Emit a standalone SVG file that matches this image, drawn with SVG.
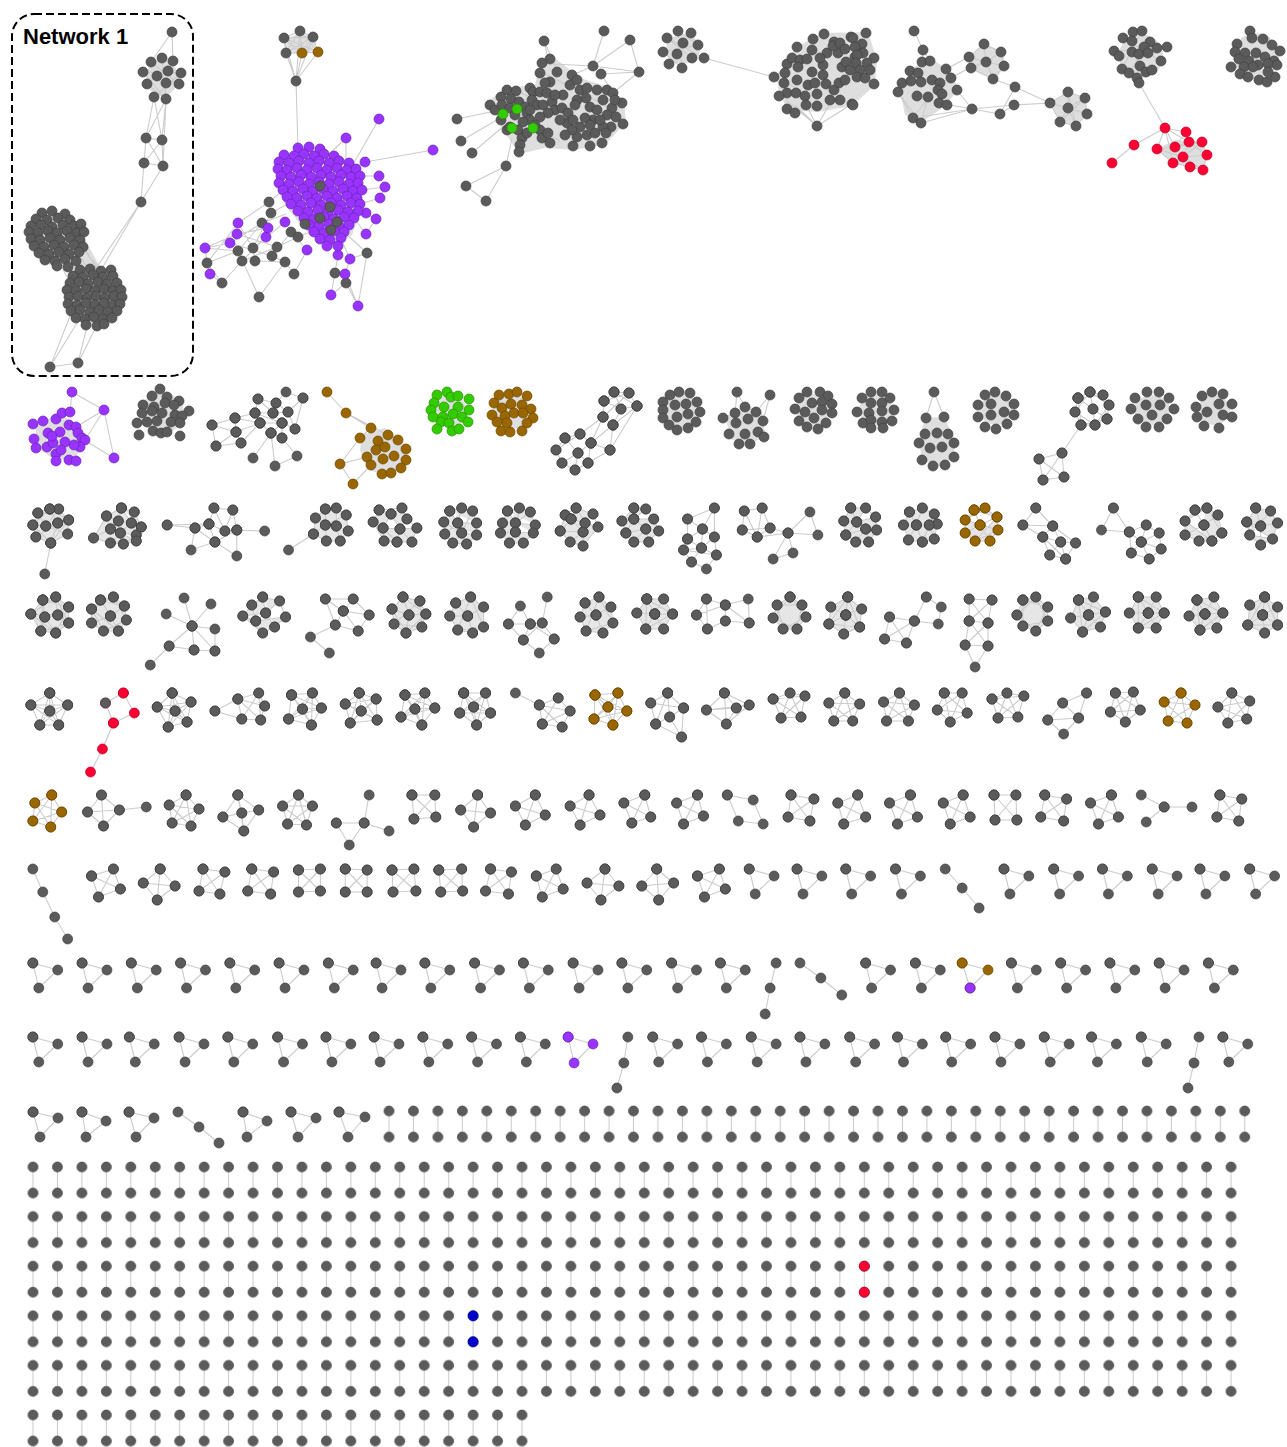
<svg xmlns="http://www.w3.org/2000/svg" width="1287" height="1447" viewBox="0 0 1287 1447">
<style>
.e{fill:none;stroke:#cccccc;stroke-width:1.1;stroke-linejoin:round}
.ef{fill:#e6e6e6;stroke:#cccccc;stroke-width:1.1;stroke-linejoin:round}
.h{fill:#dedede;stroke:none}
.g,.p,.b,.gr,.r,.bl{fill:none;stroke:none}
.g{marker-start:url(#mg);marker-mid:url(#mg);marker-end:url(#mg)}
.p{marker-start:url(#mp);marker-mid:url(#mp);marker-end:url(#mp)}
.b{marker-start:url(#mb);marker-mid:url(#mb);marker-end:url(#mb)}
.gr{marker-start:url(#mgr);marker-mid:url(#mgr);marker-end:url(#mgr)}
.r{marker-start:url(#mr);marker-mid:url(#mr);marker-end:url(#mr)}
.bl{marker-start:url(#mbl);marker-mid:url(#mbl);marker-end:url(#mbl)}
.cg{fill:#5b5b5b;stroke:#404040;stroke-width:.7}
.cp{fill:#9933ff;stroke:#6b22b3;stroke-width:.7}
text{font-family:"Liberation Sans",Arial,Helvetica,sans-serif;font-weight:700;font-size:22px;fill:#000}
</style>
<defs>
<marker id="mg" markerUnits="userSpaceOnUse" viewBox="-6 -6 12 12" markerWidth="12" markerHeight="12" overflow="visible"><circle r="5" fill="#5b5b5b" stroke="#404040" stroke-width=".7"/></marker>
<marker id="mp" markerUnits="userSpaceOnUse" viewBox="-6 -6 12 12" markerWidth="12" markerHeight="12" overflow="visible"><circle r="5" fill="#9933ff" stroke="#6b22b3" stroke-width=".7"/></marker>
<marker id="mb" markerUnits="userSpaceOnUse" viewBox="-6 -6 12 12" markerWidth="12" markerHeight="12" overflow="visible"><circle r="5" fill="#996600" stroke="#6b4700" stroke-width=".7"/></marker>
<marker id="mgr" markerUnits="userSpaceOnUse" viewBox="-6 -6 12 12" markerWidth="12" markerHeight="12" overflow="visible"><circle r="5" fill="#33cc00" stroke="#248f00" stroke-width=".7"/></marker>
<marker id="mr" markerUnits="userSpaceOnUse" viewBox="-6 -6 12 12" markerWidth="12" markerHeight="12" overflow="visible"><circle r="5" fill="#ff0033" stroke="#b30024" stroke-width=".7"/></marker>
<marker id="mbl" markerUnits="userSpaceOnUse" viewBox="-6 -6 12 12" markerWidth="12" markerHeight="12" overflow="visible"><circle r="5" fill="#0000cc" stroke="#00008f" stroke-width=".7"/></marker>
<pattern id="pp" width="24.45" height="49.6" patternUnits="userSpaceOnUse"><path class="e" d="M12.2 6v26"/><path class="g" d="M12.2 6v26"/></pattern>

<path id="r3" d="M212 425 235 418 255 413 273 413 288 412 303 398 286 392 276 403 258 399 255 413 260 423 282 423 295 429 288 412 276 403 273 413 282 423 282 438 271 433 260 423 236 432 212 425 216 446 241 443 260 423M235 418 236 432 241 443M216 446 236 432M258 399 273 413M235 418 260 423M271 433 253 458M271 433 275 466 297 456 282 438M271 433 282 423M303 398 295 429M255 413 282 423"/>
<path id="r7" d="M604 401 614 392 629 393 637 406 613 425 603 417zM604 401 621 409 637 406M614 392 621 409 613 425M629 393 603 417M603 417 580 434M603 417 591 443M613 425 610 450M613 425 591 443M637 406 610 450M565 438 580 434 591 443 588 463 575 470 562 463 556 450zM565 438 578 453 591 443M580 434 556 450M578 453 575 470M562 463 578 453 588 463M591 443 610 450 588 463M604 401 629 393M614 392 637 406"/>
<path id="r12" d="M1078 398 1090 392 1103 395 1109 405 1107 419 1095 425 1081 425 1075 412zM1078 398 1103 395 1107 419 1081 425 1078 398M1090 392 1109 405 1095 425 1075 412 1090 392M1078 398 1093 409 1107 419M1090 392 1093 409 1095 425M1081 425 1062 453 1039 459 1043 480 1064 477 1062 453 1043 480M1039 459 1064 477"/>

<path id="a1" d="M38 513 50 509 59 509 69 520 68 534 51 543 36 537 33 525zM38 513 46 526 68 534M50 509 58 523 51 543M59 509 46 526 33 525M69 520 58 523 36 537M46 526 58 523M50 509 69 520 51 543 33 525 50 509M51 543 45 574"/>
<path id="a2" d="M122 508 135 512 142 527 137 541 124 544 111 543 94 538 107 516zM122 508 119 521 111 529 94 538M135 512 132 523 121 533 111 543M142 527 137 535 124 544M107 516 119 521 132 523 137 535 121 533 111 529M122 508 132 523 142 527M107 516 111 529 121 533 137 541"/>
<path id="a3" d="M168 525 196 528 210 524 215 508 234 510 238 530 266 531M215 508 226 531 234 510M210 524 226 531 238 530 216 542 210 524M196 528 216 542 192 550 196 528M216 542 238 556 238 530M168 525 210 524"/>
<path id="a4" d="M327 509 338 508 348 515 350 531 342 541 328 541 315 534 317 518zM327 509 327 525 328 541M338 508 338 526 342 541M317 518 338 526 350 531M348 515 327 525 315 534M327 525 338 526M315 534 290 550"/>
<path id="a5" d="M381 510 404 508 409 519 419 528 414 542 399 542 386 541 375 522zM393 514 385 528 402 529 393 514M381 510 393 514 404 508M375 522 385 528 386 541M409 519 402 529 419 528M399 542 402 529 414 542M385 528 399 542"/>
<path id="a6" d="M452 511 464 508 475 511 479 523 479 535 469 544 455 543 447 534 446 522zM452 511 460 523 479 523M464 508 460 523 447 534M475 511 464 533 455 543M446 522 464 533 479 535M460 523 464 533 469 544"/>
<path id="a7" d="M510 511 522 508 533 512 538 525 536 533 526 543 512 543 503 533 505 523zM510 511 518 523 538 525M522 508 518 532 503 533M533 512 518 523 505 523M518 523 518 532 536 533M512 543 518 532 526 543"/>
<path id="a8" d="M568 515 579 508 596 514 601 527 586 546 573 542 563 531zM574 519 588 523 586 532 574 519M568 515 574 519 579 508M596 514 588 523 601 527M563 531 574 519M573 542 586 532 586 546M563 531 586 532M579 508 588 523"/>
<path id="a9" d="M637 508 649 509 657 519 662 531 652 542 637 542 629 533 625 521zM637 519 649 529M637 508 637 519 625 521M649 509 637 519 657 519M629 533 649 529 662 531M637 542 649 529 652 542M637 519 629 533"/>
<path id="a10" d="M718 508 691 519 706 529 718 508 718 537 706 529 691 539 691 519M691 539 705 548 718 537 720 555 710 569 695 562 687 550 691 539M706 529 705 548 687 550 720 555 705 548 695 562"/>
<path id="a11" d="M748 511 766 508 774 528 746 530 748 511 761 537 774 528 792 533 814 512 822 535 792 533 797 553 777 559 792 533 761 537 766 508M746 530 761 537"/>
<path id="a12" d="M855 508 870 508 880 517 881 530 873 542 860 542 850 535 848 521zM861 522 870 529M855 508 861 522 848 521M870 508 861 522 880 517M850 535 870 529 881 530M860 542 870 529 873 542M861 522 850 535"/>
<path id="a13" d="M914 512 927 508 939 514 942 524 939 539 927 542 913 540 908 525zM921 525 934 525M914 512 921 525 908 525M927 508 921 525 913 540M939 514 934 525 942 524M927 542 934 525 939 539M921 525 927 542"/>
<path id="a14" d="M979 510 990 508 1002 517 1003 530 995 541 980 541 970 533 970 520zM985 525 979 510M985 525 1002 517M985 525 995 541M985 525 970 533M990 508 970 520 1003 530 980 541 1002 517 979 510"/>
<path id="a15" d="M1041 508 1028 525 1058 526 1041 508M1028 525 1048 537 1058 526 1066 542 1048 537 1055 555 1071 559 1066 542 1081 543 1071 559M1058 526 1081 543M1066 542 1055 555M1048 537 1071 559"/>
<path id="a16" d="M1119 508 1107 530 1135 532 1119 508M1135 532 1152 525 1165 533 1167 549 1155 559 1137 553 1135 532 1147 542 1152 525M1165 533 1147 542 1167 549M1147 542 1137 553M1147 542 1155 559"/>
<path id="a17" d="M1201 510 1213 508 1224 515 1228 533 1218 541 1205 541 1191 535 1191 521zM1210 525 1201 510M1210 525 1224 515M1210 525 1218 541M1210 525 1191 535M1213 508 1191 521 1218 541 1228 533 1205 541M1213 508 1228 533"/>
<path id="a18" d="M1262 508 1277 511 1284 523 1279 539 1267 545 1256 535 1253 522zM1267 526 1262 508M1267 526 1284 523M1267 526 1267 545M1267 526 1253 522M1277 511 1256 535 1279 539 1253 522"/>

<path id="b1" d="M43 600 56 597 69 607 69 623 56 633 41 631 31 614zM45 617 58 615M43 600 45 617 41 631M56 597 58 615 69 623M69 607 45 617 56 633M31 614 58 615M43 600 69 607 56 633 31 614 56 597 69 623 41 631 43 600"/>
<path id="b2" d="M101 600 114 597 125 606 127 620 119 631 104 631 92 623 92 609zM111 616 101 600M111 616 125 606M111 616 119 631M111 616 92 623M114 597 127 620 104 631 92 609 114 597M101 600 125 606M92 609 119 631"/>
<path id="b3" d="M185 598 193 626 212 604M167 614 193 626 216 629 216 651 195 650 170 646 193 626 195 650M193 626 216 651M170 646 151 665"/>
<path id="b4" d="M264 597 281 601 287 617 276 627 264 633 244 616 253 605zM267 613 257 621M264 597 267 613 276 627M253 605 257 621 264 633M281 601 267 613 244 616 257 621 287 617"/>
<path id="b5" d="M327 599 355 599 371 615 360 631 337 625 327 599 345 611 355 599M345 611 371 615M345 611 337 625 312 637 331 653M345 611 360 631"/>
<path id="b6" d="M405 597 422 601 428 614 424 627 408 633 396 624 394 609zM411 615 405 597M411 615 428 614M411 615 408 633M411 615 394 609M422 601 424 627 396 624 422 601M405 597 428 614 408 633 394 609"/>
<path id="b7" d="M458 603 473 597 486 607 486 627 475 633 460 630 452 616zM470 616 458 603M470 616 486 607M470 616 475 633M470 616 452 616M473 597 486 627 460 630 473 597"/>
<path id="b8" d="M550 597 545 623 533 624 511 624 523 606 533 624 526 640 542 653 557 639 545 623 526 640 511 624M533 624 557 639"/>
<path id="b9" d="M588 603 602 597 614 607 616 623 606 633 589 631 583 617zM599 615 588 603M599 615 614 607M599 615 606 633M599 615 583 617M602 597 616 623 589 631 602 597"/>
<path id="b10" d="M650 599 667 599 676 614 667 629 649 629 640 613zM658 614 650 599M658 614 676 614M658 614 649 629M658 614 667 599M658 614 640 613M658 614 667 629M650 599 676 614 649 629 650 599"/>
<path id="b11" d="M700 615 710 599 729 605 752 599 753 623 729 621 711 629 700 615 729 605 729 621M710 599 711 629M729 605 753 623"/>
<path id="b12" d="M794 597 806 605 810 617 801 629 787 629 777 618 781 605zM794 597 810 617 787 629 781 605 806 605 801 629 777 618 794 597"/>
<path id="b13" d="M852 597 866 609 864 627 848 634 833 624 835 607zM850 615 852 597M850 615 864 627M850 615 833 624M850 615 866 609M850 615 848 634M850 615 835 607M852 597 864 627 833 624 852 597"/>
<path id="b14" d="M931 597 946 607 943 624 919 621 931 597M919 621 894 617 889 639 911 643 919 621 889 639M894 617 911 643"/>
<path id="b15" d="M974 599 997 600 993 623 974 621 974 599 993 623 993 646 970 645 974 621 997 600M974 621 993 646 980 667 970 645 993 623"/>
<path id="b16" d="M1028 600 1041 597 1053 607 1053 621 1041 631 1028 626 1022 615zM1028 600 1053 607 1041 631 1022 615 1041 597 1053 621 1028 626 1028 600"/>
<path id="b17" d="M1084 600 1099 597 1111 612 1106 627 1088 632 1076 618zM1094 615 1084 600M1094 615 1111 612M1094 615 1088 632M1094 615 1099 597M1094 615 1076 618M1094 615 1106 627M1084 600 1111 612 1088 632 1084 600"/>
<path id="b18" d="M1144 597 1162 597 1170 613 1162 628 1144 628 1135 613zM1154 613 1144 597M1154 613 1170 613M1154 613 1144 628M1154 613 1162 597M1154 613 1135 613M1154 613 1162 628M1144 597 1170 613 1144 628 1144 597"/>
<path id="b19" d="M1203 600 1220 597 1229 613 1223 628 1206 630 1195 616zM1211 614 1203 600M1211 614 1229 613M1211 614 1206 630M1211 614 1220 597M1211 614 1195 616M1211 614 1223 628M1203 600 1229 613 1206 630 1203 600"/>
<path id="b20" d="M1271 597 1284 607 1284 625 1271 633 1254 625 1256 605zM1269 615 1271 597M1269 615 1284 625M1269 615 1254 625M1269 615 1284 607M1269 615 1271 633M1269 615 1256 605M1271 597 1284 625 1254 625 1271 597"/>

<path id="c1" d="M50 693 68 705 59 725 40 725 31 705zM50 693 50 711 59 725M68 705 50 711 40 725M31 705 50 711M50 693 59 725 31 705 68 705 40 725 50 693"/>
<path id="c2" d="M124 693 135 713 114 723 106 703 124 693M114 723 103 749 91 772"/>
<path id="c3" d="M173 693 192 702 188 722 169 727 158 707zM173 693 176 711 188 722M192 702 176 711 169 727M158 707 176 711M173 693 188 722 158 707 192 702 169 727 173 693"/>
<path id="c4" d="M216 711 239 699 260 693 266 706 262 720 243 719 216 711M239 699 243 719 260 693 262 720 239 699 266 706"/>
<path id="c5" d="M293 695 314 693 323 708 313 725 290 719zM293 695 304 709 313 725M314 693 304 709 290 719M323 708 304 709M293 695 323 708 290 719 314 693 313 725 293 695"/>
<path id="c6" d="M361 693 378 699 379 720 352 723 347 704zM361 693 363 711 379 720M378 699 363 711 352 723M347 704 363 711M361 693 379 720 347 704 378 699 352 723 361 693"/>
<path id="c7" d="M407 695 427 693 437 708 424 725 403 717zM407 695 417 709 424 725M427 693 417 709 403 717M437 708 417 709M407 695 437 708 403 717 427 693 424 725 407 695"/>
<path id="c8" d="M466 693 488 693 493 713 479 725 462 713zM466 693 476 707 479 725M488 693 476 707 462 713M493 713 476 707M466 693 493 713 462 713 488 693 479 725 466 693"/>
<path id="c9" d="M518 693 542 705 561 698 573 711 565 727 545 724 542 705 573 711 545 724M542 705 565 727M561 698 545 724"/>
<path id="c10" d="M598 695 621 693 630 711 616 725 597 719zM598 695 611 707 616 725M621 693 611 707 597 719M630 711 611 707M598 695 630 711 597 719 621 693 616 725 598 695"/>
<path id="c11" d="M671 693 687 708 673 717 659 724 654 703zM671 693 673 717 685 737 687 708M659 724 685 737M654 703 687 708M671 693 659 724"/>
<path id="c12" d="M728 693 753 705 740 708 730 724 710 710 728 693 740 708 710 710 753 705 730 724 728 693"/>
<path id="c13" d="M777 699 794 693 809 696 805 717 785 718 777 699 809 696 785 718 794 693 805 717 777 699"/>
<path id="c14" d="M849 693 864 704 857 721 838 721 833 703 849 693 857 721 833 703 864 704 838 721 849 693"/>
<path id="c15" d="M904 693 919 705 913 721 891 721 888 702 904 693 913 721 888 702 919 705 891 721 904 693"/>
<path id="c16" d="M949 693 967 693 972 713 955 722 942 710 949 693 972 713 942 710 967 693 955 722 949 693"/>
<path id="c17" d="M997 699 1012 693 1029 696 1023 717 1003 718 997 699 1029 696 1003 718 1012 693 1023 717 997 699"/>
<path id="c18" d="M1092 693 1068 703 1053 720 1069 734 1084 718 1068 703M1053 720 1084 718 1092 693"/>
<path id="c19" d="M1121 693 1139 692 1146 710 1131 722 1116 712 1121 693 1146 710 1116 712 1139 692 1131 722 1121 693"/>
<path id="c20" d="M1187 693 1201 705 1193 723 1174 721 1170 702 1187 693 1193 723 1170 702 1201 705 1174 721 1187 693"/>
<path id="c21" d="M1238 693 1256 701 1253 719 1234 723 1224 707 1238 693 1253 719 1224 707 1256 701 1234 723 1238 693"/>

<path id="d1" d="M52 795 62 812 51 827 33 821 35 803 52 795 51 827 35 803 62 812 33 821 52 795"/>
<path id="d2" d="M102 795 120 810 104 826 88 812 102 795 104 826M88 812 120 810 147 807"/>
<path id="d3" d="M187 795 200 809 192 826 173 823 170 805 187 795 192 826 170 805 200 809 173 823 187 795"/>
<path id="d4" d="M239 795 260 810 245 831 224 817 243 813 239 795 245 831 243 813 260 810 224 817 239 795"/>
<path id="d5" d="M300 795 314 806 308 825 289 824 284 806 300 795 308 825 284 806 314 806 289 824 300 795"/>
<path id="d6" d="M371 795 366 823 391 831M338 823 366 823 351 845 338 823"/>
<path id="d7" d="M414 795 437 795 438 817 416 819zM414 795 438 817M437 795 416 819"/>
<path id="d8" d="M480 795 493 813 476 827 463 810zM480 795 476 827M493 813 463 810"/>
<path id="d9" d="M538 795 548 815 528 825 518 806zM538 795 528 825M548 815 518 806"/>
<path id="d10" d="M592 795 603 815 583 825 573 806zM592 795 583 825M603 815 573 806"/>
<path id="d11" d="M648 795 654 817 635 823 627 803zM648 795 635 823M654 817 627 803"/>
<path id="d12" d="M701 795 707 816 687 824 680 803zM701 795 687 824M707 816 680 803"/>
<path id="d13" d="M731 795 757 800 767 824 742 821z"/>
<path id="d14" d="M795 795 818 799 814 821 792 817zM795 795 814 821M818 799 792 817"/>
<path id="d15" d="M862 795 870 817 848 824 842 803zM862 795 848 824M870 817 842 803"/>
<path id="d16" d="M915 795 922 817 902 824 894 803zM915 795 902 824M922 817 894 803"/>
<path id="d17" d="M968 795 975 817 955 824 948 803zM968 795 955 824M975 817 948 803"/>
<path id="d18" d="M999 795 1021 795 1022 820 1000 820zM999 795 1022 820M1021 795 1000 820"/>
<path id="d19" d="M1050 795 1072 799 1069 821 1046 817zM1050 795 1069 821M1072 799 1046 817"/>
<path id="d20" d="M1117 795 1124 817 1104 824 1096 803zM1117 795 1104 824M1124 817 1096 803"/>
<path id="d21" d="M1147 795 1170 807 1198 807M1170 807 1152 822"/>
<path id="d22" d="M1226 795 1248 799 1245 821 1223 817zM1226 795 1245 821M1248 799 1223 817"/>

<path id="e1" d="M33 869 43 892 55 917 68 939"/>
<path id="e2" d="M92 876 114 869 121 889 99 897zM92 876 121 889M114 869 99 897"/>
<path id="e3" d="M161 869 176 886 158 900 144 883zM161 869 158 900M176 886 144 883"/>
<path id="e4" d="M204 869 226 872 221 894 200 891zM204 869 221 894M226 872 200 891"/>
<path id="e5" d="M253 869 275 872 272 894 249 891zM253 869 272 894M275 872 249 891"/>
<path id="e6" d="M300 870 322 869 322 891 300 892zM300 870 322 891M322 869 300 892"/>
<path id="e7" d="M347 869 369 870 369 892 347 892zM347 869 369 892M369 870 347 892"/>
<path id="e8" d="M394 870 416 869 418 891 395 892zM394 870 418 891M416 869 395 892"/>
<path id="e9" d="M441 870 464 869 465 891 443 892zM441 870 465 891M464 869 443 892"/>
<path id="e10" d="M493 869 514 872 511 894 488 891zM493 869 511 894M514 872 488 891"/>
<path id="e11" d="M539 876 559 869 566 889 545 897zM539 876 566 889M559 869 545 897"/>
<path id="e12" d="M608 869 622 886 604 900 590 883zM608 869 604 900M622 886 590 883"/>
<path id="e13" d="M660 869 677 883 662 900 645 886zM660 869 662 900M677 883 645 886"/>
<path id="e14" d="M701 876 723 869 729 889 708 897zM701 876 729 889M723 869 708 897"/>
<path id="e15" d="M950 869 967 888 984 908"/>
<path id="trisEFG" d="M753 869l25 7-19 18zM801 869l25 7-19 18zM850 869l25 7-19 18zM900 869l25 7-19 18zM1009 869l25 7-19 18zM1059 869l25 7-19 18zM1108 869l25 7-19 18zM1158 869l25 7-19 18zM1206 869l25 7-19 18zM1256 869l25 7-19 18zM33 963l25 7-19 18zM82.5 963l25 7-19 18zM132 963l25 7-19 18zM181.5 963l25 7-19 18zM231 963l25 7-19 18zM280.5 963l25 7-19 18zM330 963l25 7-19 18zM378 963l25 7-19 18zM427 963l25 7-19 18zM477 963l25 7-19 18zM526 963l25 7-19 18zM576 963l25 7-19 18zM625 963l25 7-19 18zM675 963l25 7-19 18zM724 963l25 7-19 18zM870 963l25 7-19 18zM920 963l25 7-19 18zM1016.5 963l25 7-19 18zM1066 963l25 7-19 18zM1115.5 963l25 7-19 18zM1165 963l25 7-19 18zM1214.5 963l25 7-19 18zM780 963 774 988 769 1014M804 963 825 978 846 995M33 1037l25 7-19 18zM82.5 1037l25 7-19 18zM130 1037l25 7-19 18zM180 1037l25 7-19 18zM229 1037l25 7-19 18zM279 1037l25 7-19 18zM327.6 1037l25 7-19 18zM376 1037l25 7-19 18zM425 1037l25 7-19 18zM474 1037l25 7-19 18zM523 1037l25 7-19 18zM656 1037l25 7-19 18zM705 1037l25 7-19 18zM755 1037l25 7-19 18zM804 1037l25 7-19 18zM854 1037l25 7-19 18zM902 1037l25 7-19 18zM950.5 1037l25 7-19 18zM1000 1037l25 7-19 18zM1049.5 1037l25 7-19 18zM1097 1037l25 7-19 18zM1147 1037l25 7-19 18zM1229 1037l25 7-19 18zM631 1037 627 1063 620 1088M1205 1037 1200 1063 1194 1088"/>
<path id="fc" d="M967 963 993 970 975 988z"/>
<path id="gp" d="M571 1037 596 1044 577 1063z"/>
<path id="trisH" d="M33 1112l25 6-18 19zM82 1112l24 9-20 16zM129 1112l25 6-18 19zM243 1112l24 9-20 16zM291 1112l25 6-18 19zM339 1112l26 5-17 20zM178 1112 199 1127 219 1143"/>
</defs>

<rect width="1287" height="1447" fill="#ffffff"/>

<g id="connectors">
 <g id="edge-haze" class="h">
  <ellipse cx="162" cy="78" rx="16" ry="18"/>
  <ellipse cx="57" cy="240" rx="26" ry="26"/>
  <ellipse cx="95" cy="297" rx="27" ry="28"/>
  <path d="M62 258L84 238L104 274L76 282z"/>
  <ellipse cx="301" cy="44" rx="14" ry="10"/>
  <path d="M282 160L300 146L340 155L362 175L362 210L352 235L330 250L305 230L285 205L277 180z"/>
  <path d="M490 100L505 88L535 85L540 62L555 58L580 78L605 86L624 100L626 122L606 144L575 150L545 148L519 154L500 125z"/>
  <ellipse cx="683" cy="49" rx="17" ry="15"/>
  <path d="M776 77L795 48L822 33L868 32L877 60L875 85L852 106L818 112L788 110L780 95z"/>
  <path d="M900 90L912 68L930 58L952 72L958 90L945 106L922 122L905 115z"/>
  <path d="M970 57L984 44L1002 51L1006 66L994 80L972 70z"/>
  <path d="M1050 103L1068 92L1085 98L1087 114L1076 126L1060 122z"/>
  <ellipse cx="1141" cy="56" rx="22" ry="22"/>
  <path d="M1157 149L1175 140L1202 142L1207 155L1203 170L1173 163z"/>
  <ellipse cx="1256" cy="56" rx="23" ry="23"/>
  <path d="M35 425L60 414L80 428L85 442L75 458L55 460L38 448z"/>
  <ellipse cx="162" cy="413" rx="22" ry="20"/>
  <path d="M362 435L385 428L406 445L406 465L390 476L368 470L360 450z"/>
  <ellipse cx="450" cy="411" rx="17" ry="16"/>
  <ellipse cx="512" cy="412" rx="19" ry="17"/>
  <ellipse cx="681" cy="410" rx="17" ry="17"/>
  <path d="M725 418L745 405L762 412L765 435L750 445L732 440z"/>
  <ellipse cx="813" cy="410" rx="17" ry="16"/>
  <ellipse cx="876" cy="410" rx="17" ry="16"/>
  <path d="M925 418L944 417L955 440L954 458L940 466L922 460L919 440z"/>
  <ellipse cx="996" cy="410" rx="16" ry="15"/>
  <ellipse cx="1152" cy="410" rx="18" ry="15"/>
  <ellipse cx="1214" cy="410" rx="16" ry="15"/>
 </g>
 <g class="e">
  <path id="edges-net1" d="M172 32 151 62M172 32 173 61M154 97 146 138M154 97 162 140M166 99 146 138M166 99 162 140M166 99 163 166M146 138 162 140 163 166 144 163 146 138 163 166M162 140 144 163M144 163 141 202 163 166M141 202 101 270M141 202 90 277M50 367 78 363M50 367 72 311M50 367 80 318M78 363 88 322M78 363 97 325M151 62 179 84M143 72 181 73M147 84 173 61M162 58 166 99M157 76 179 84M154 97 181 73M143 72 166 99M147 84 166 99M60 256 80 285M70 258 90 290M76 250 96 281M80 262 100 290M66 262 86 300M56 258 78 295M80 240 101 276M84 250 110 282"/>
  <path id="edges-net2" d="M300 31 284 38 286 53 302 53 318 52 313 37zM300 31 286 53 318 52 284 38 302 53 313 37 286 53M300 31 302 53M284 38 313 37M300 31 318 52M296 81 284 38M296 81 286 53M296 81 302 53M296 81 318 52M296 81 300 31M296 81 313 37M296 81 298 148M379 119 351 168M346 138 325 158M346 138 346 163M433 150 365 162 351 168M365 162 356 169M379 176 360 176M385 187 362 190M380 198 360 204M376 219 358 211M366 234 354 218M379 176 385 187 380 198M367 253 344 232M350 259 341 239M338 255 330 239M350 259 345 274 346 283 331 295 335 273 338 255M346 283 358 306 345 274M350 259 367 253 358 306M366 213 376 219M366 234 376 219M205 248 238 251 207 263 210 274 222 283 207 263 205 248 230 243M238 223 253 248M237 234 277 247M230 243 272 256M242 261 277 247M255 261 253 248M259 297 285 262 294 274 307 250M285 262 272 256M238 251 259 297M269 202 290 185M271 213 295 200M262 223 286 214M298 237 320 228M291 232 307 250M230 243 262 223M238 223 269 202M253 248 285 222M242 261 266 237M222 283 242 261M207 263 238 223M277 247 298 237M272 256 291 232M253 248 271 213M255 261 285 262M237 234 268 228M238 251 262 223M205 248 237 234"/>
  <path id="edges-net3" d="M457 119 500 110M461 141 500 118M472 153 505 125M506 166 512 138M506 166 466 186 486 201 506 166M544 41 548 58M544 41 558 71M604 31 593 66 630 40 639 72 593 66 552 64M593 66 566 78M601 74 639 72M601 74 608 85M639 72 614 92M500 106 560 141M520 92 600 134M540 71 620 113"/>
  <path id="edges-net4" d="M704 58 774 77M667 38 704 58M678 31 682 68M691 33 669 64M663 52 698 45M667 38 692 58M678 31 698 45M663 52 682 68M817 126 795 105M817 126 806 105M817 126 832 100M817 126 852 104M817 126 786 100M774 77 795 60M774 77 800 90"/>
  <path id="edges-net5" d="M914 31 923 50 922 62M923 50 930 61M946 69 969 57M951 78 969 68M957 90 972 109M921 123 972 109M913 118 972 109M939 103 972 109M972 109 1000 114 1015 87M972 109 1014 105 1050 103 1015 87 993 79 1004 66 986 62 969 57 984 44 1001 52 1004 66M969 68 986 62 993 79 971 68 969 57M984 44 986 62M1001 52 986 62M1000 114 1014 105M913 118 898 92M921 123 900 95M913 118 940 83M921 123 928 97M1050 103 1068 92 1085 98 1087 114 1076 126 1060 122zM1050 103 1068 108 1085 98M1068 92 1068 108 1087 114M1060 122 1068 108 1076 126M1050 103 1087 114M1068 92 1076 126M1085 98 1060 122"/>
  <path id="edges-net6" d="M1139 83 1165 128 1134 145 1112 163M1165 128 1157 149M1165 128 1175 147M1165 128 1186 132M1165 128 1173 163M1165 128 1189 142M1186 132 1189 142 1202 142 1207 155 1203 170 1190 167 1173 163 1157 149 1175 147 1189 142 1183 157 1175 147 1202 142 1183 157 1207 155M1183 157 1190 167M1183 157 1173 163M1183 157 1203 170M1186 132 1175 147M1189 142 1207 155M1157 149 1183 157M1123 38 1161 61M1114 51 1167 47M1133 32 1139 83M1142 31 1122 69M1150 42 1129 73"/>
  <path id="edges-row2" d="M72 392 104 410 76 427M72 392 70 412M104 410 114 458 84 440M104 410 85 440M327 392 346 413 371 428 360 438M346 413 388 435M340 464 353 484 371 465M340 464 367 457M340 464 360 438M737 392 745 407M737 392 735 413M770 395 756 412M770 395 763 421M723 418 735 413M934 392 926 418M934 392 944 417"/>
  <use href="#r3"/><use href="#r7"/><use href="#r12"/>
  <use href="#trisH"/>
 </g>
 <g transform="matrix(.995 0 0 1 0 0)">
  <g class="ef">
   <use href="#a1"/><use href="#a2"/><use href="#a4"/><use href="#a5"/><use href="#a6"/><use href="#a7"/><use href="#a8"/><use href="#a9"/><use href="#a12"/><use href="#a13"/><use href="#a14"/><use href="#a17"/><use href="#a18"/>
   <use href="#b1"/><use href="#b2"/><use href="#b4"/><use href="#b6"/><use href="#b7"/><use href="#b9"/><use href="#b10"/><use href="#b12"/><use href="#b13"/><use href="#b16"/><use href="#b17"/><use href="#b18"/><use href="#b19"/><use href="#b20"/>
  </g>
  <g class="e">
   <use href="#a3"/><use href="#a10"/><use href="#a11"/><use href="#a15"/><use href="#a16"/>
   <use href="#b3"/><use href="#b5"/><use href="#b8"/><use href="#b11"/><use href="#b14"/><use href="#b15"/>
   <use href="#c1"/><use href="#c2"/><use href="#c3"/><use href="#c4"/><use href="#c5"/><use href="#c6"/><use href="#c7"/><use href="#c8"/><use href="#c9"/><use href="#c10"/><use href="#c11"/><use href="#c12"/><use href="#c13"/><use href="#c14"/><use href="#c15"/><use href="#c16"/><use href="#c17"/><use href="#c18"/><use href="#c19"/><use href="#c20"/><use href="#c21"/>
   <use href="#d1"/><use href="#d2"/><use href="#d3"/><use href="#d4"/><use href="#d5"/><use href="#d6"/><use href="#d7"/><use href="#d8"/><use href="#d9"/><use href="#d10"/><use href="#d11"/><use href="#d12"/><use href="#d13"/><use href="#d14"/><use href="#d15"/><use href="#d16"/><use href="#d17"/><use href="#d18"/><use href="#d19"/><use href="#d20"/><use href="#d21"/><use href="#d22"/>
   <use href="#e1"/><use href="#e2"/><use href="#e3"/><use href="#e4"/><use href="#e5"/><use href="#e6"/><use href="#e7"/><use href="#e8"/><use href="#e9"/><use href="#e10"/><use href="#e11"/><use href="#e12"/><use href="#e13"/><use href="#e14"/><use href="#e15"/>
   <use href="#trisEFG"/><use href="#fc"/><use href="#gp"/>
  </g>
 </g>
</g>

<g id="nodes">
 <g id="network-1" class="g">
  <path d="M172 32 151 62 162 58 173 61 143 72 157 76 168 71 181 73 147 84 166 83 179 84 154 97 166 99 146 138 162 140 144 163 163 166 141 202 50 367 78 363"/>
  <path d="M42 213 52 211 65 214 36 219 47 220 58 218 70 220 31 226 41 225 52 227 63 225 74 226 81 224 29 232 38 233 48 231 57 233 67 231 77 233 84 232 31 239 40 240 50 238 60 240 70 238 80 240 34 246 44 247 54 245 64 247 74 245 83 247 39 253 49 254 59 252 69 254 79 252 45 260 55 261 65 259 76 261 57 266 68 267"/>
  <path d="M80 270 90 269 101 271 111 270 73 276 83 277 93 275 103 277 113 276 70 283 79 282 88 284 98 282 107 284 117 283 67 290 76 291 86 289 95 291 104 289 113 291 121 290 69 297 78 296 87 298 96 296 105 298 114 296 122 297 68 304 77 305 86 303 95 305 104 303 113 305 120 304 71 311 80 310 90 312 99 310 108 312 117 311 76 318 85 319 94 317 103 319 112 318 86 325 97 326 104 324"/>
 </g>
 <g id="network-2">
  <path class="g" d="M300 31 284 38 313 37 286 53 296 81"/>
  <path class="b" d="M302 53 318 52"/>
  <path class="g" d="M207 263 222 283 238 251 253 248 242 261 255 261 262 223 269 202 271 213 277 247 272 256 285 262 294 274 259 297 291 232 298 237 367 253 335 273 346 283"/>
  <path class="p" d="M205 248 238 223 237 234 230 243 210 274 266 237 268 228 285 222 307 250 379 119 346 138 433 150 365 162 351 168 379 176 385 187 380 198 376 219 366 213 366 234 350 259 338 255 331 295 358 306 345 274"/>
  <path class="p" d="M298 148 309 147 320 149 284 155 294 156 304 154 314 156 324 154 334 156 279 162 289 163 299 161 309 163 319 161 329 163 339 161 349 163 278 169 287 170 297 168 307 170 317 168 327 170 337 168 347 170 356 169 281 176 291 177 301 175 311 177 321 175 331 177 341 175 351 177 360 176 279 183 289 184 299 182 309 184 319 182 329 184 339 182 349 184 358 183 283 190 293 191 303 189 313 191 323 189 333 191 343 189 353 191 362 190 287 197 297 198 307 196 317 198 327 196 337 198 347 196 357 198 291 204 301 205 311 203 321 205 331 203 341 205 351 203 360 204 298 211 308 212 318 210 328 212 338 210 348 212 358 211 304 218 314 219 324 217 334 219 344 217 354 218 309 225 319 226 329 224 339 226 349 225 314 232 324 233 334 231 344 232 320 239 330 240 341 238 327 246 338 246"/>
  <path class="g" d="M320 186 330 207 320 218 337 222 331 230 305 224"/>
 </g>
 <g id="network-3">
  <path class="g" d="M550 59 542 63 557 72 540 73 550 82 545 83 572 75 570 85 577 80 507 90 516 91 501 97 511 99 519 102 530 88 533 92 540 92 547 93 532 100 525 107 527 113 537 105 543 105 552 102 555 110 548 113 540 117 530 120 523 122 518 130 507 130 522 138 520 145 519 152 527 133 540 130 542 138 550 143 548 133 490 105 495 110 501 120 510 127 502 105 510 108 563 95 562 108 568 113 567 123 573 120 577 100 580 90 587 88 586 98 590 107 597 90 607 90 613 93 622 103 612 108 603 100 597 110 607 115 616 117 623 124 611 127 603 127 593 120 585 118 580 127 587 135 595 133 606 133 602 143 590 146 573 146 577 137 572 130 555 95 560 120 565 135 575 105 590 125 600 120 615 100 530 110 535 125 515 115 544 41 604 31 630 40 639 72 593 66 601 74 457 119 461 141 472 153 506 166 466 186 486 201"/>
  <path class="gr" d="M503 114 517 109 512 128 533 128"/>
 </g>
 <g id="network-4" class="g">
  <path d="M667 38 678 31 691 33 683 43 698 45 663 52 677 54 692 58 704 58 669 64 682 68"/>
  <path d="M774 77 787 64 797 47 813 39 824 34 834 42 838 53 827 53 833 46 792 58 800 60 807 59 785 73 798 67 797 80 808 85 815 83 823 75 823 65 842 67 846 62 850 70 784 83 787 93 779 96 796 93 805 96 817 94 834 90 839 83 840 100 830 100 787 109 795 113 806 105 817 106 817 126 852 104 840 43 845 49 851 37 857 47 855 57 866 33 853 38 862 44 855 47 863 53 874 58 857 55 867 63 856 63 870 70 860 70 874 84 853 105 857 77 865 78 812 72 826 84 845 80 812 50 820 58"/>
 </g>
 <g id="network-5" class="g">
  <path d="M914 31 923 50 922 62 930 61 910 71 918 73 902 83 911 81 921 82 932 80 940 83 946 69 951 78 898 92 917 96 928 97 938 90 942 94 957 90 939 103 947 105 913 118 921 123 984 44 969 57 1001 52 986 62 971 68 1004 66 993 79 1015 87 1014 105 1000 114 972 109 1050 103 1068 92 1085 98 1068 108 1087 114 1060 122 1076 126"/>
 </g>
 <g id="network-6">
  <path class="g" d="M1133 32 1142 31 1123 38 1132 41 1150 42 1167 47 1114 51 1119 56 1132 52 1139 54 1144 47 1148 53 1157 48 1161 61 1140 66 1122 69 1129 73 1137 78 1139 83 1146 72 1152 70"/>
  <path class="r" d="M1165 128 1186 132 1134 145 1112 163 1157 149 1175 147 1189 142 1202 142 1183 157 1207 155 1173 163 1190 167 1203 170"/>
 </g>
 <g id="network-7" class="g">
  <path d="M1250 31 1252 38 1263 39 1237 44 1272 45 1280 51 1235 52 1245 53 1256 53 1265 57 1274 61 1239 59 1249 61 1258 65 1268 64 1277 65 1231 67 1244 67 1253 67 1240 74 1248 77 1259 80 1267 82 1275 77 1268 72"/>
 </g>
 <g id="row-2">
  <path class="p" d="M72 392 104 410 114 458 33 424 43 421 56 419 62 413 70 412 34 439 36 448 47 447 48 433 60 432 69 425 76 427 78 433 82 438 85 440 80 447 74 445 65 442 53 443 56 454 56 461 69 460 76 461 61 450 52 436"/>
  <path class="g" d="M160 389 152 396 167 397 179 401 143 405 154 407 165 403 174 405 189 411 142 413 152 411 162 413 175 415 182 416 137 423 147 422 157 421 171 422 180 423 139 435 153 431 161 433 167 432 180 436"/>
  <use class="g" href="#r3"/>
  <path class="b" d="M327 392 346 413 371 428 360 438 388 435 398 440 378 441 376 450 385 447 406 449 367 457 383 459 394 456 406 460 371 465 382 474 391 473 401 468 340 464 353 484"/>
  <path class="gr" d="M437 395 447 392 451 397 458 396 469 399 434 403 444 407 458 407 469 410 431 410 433 417 443 417 453 414 462 417 468 422 441 422 449 423 437 429 452 431 459 429"/>
  <path class="b" d="M499 395 509 394 517 392 527 396 494 403 502 408 511 404 522 405 531 409 492 415 505 416 514 413 523 413 533 418 497 422 507 423 527 423 501 431 510 432 522 431"/>
  <use class="g" href="#r7"/>
  <path class="g" d="M679 392 690 393 670 395 697 402 663 402 675 405 686 404 663 410 700 412 677 417 688 414 663 418 696 422 669 425 677 430 688 428"/>
  <path class="g" d="M737 392 770 395 745 407 735 413 756 412 723 418 748 419 763 421 736 423 745 434 758 432 729 434 739 444 750 444 764 437"/>
  <path class="g" d="M807 392 820 392 799 398 828 396 812 403 822 402 832 404 795 409 805 412 822 410 832 413 799 421 814 418 826 423 807 427 818 429"/>
  <path class="g" d="M871 392 882 392 862 398 890 398 871 403 882 403 857 412 869 413 882 411 894 410 863 423 871 420 882 422 892 421 871 428 883 428"/>
  <path class="g" d="M934 392 926 418 944 417 925 434 937 433 948 434 919 443 930 448 942 447 954 443 922 460 933 466 945 465 954 457"/>
  <path class="g" d="M985 395 995 392 1006 396 978 405 991 404 1014 404 1004 412 978 417 991 415 1014 415 985 427 996 429 1007 424"/>
  <use class="g" href="#r12"/>
  <path class="g" d="M1135 398 1147 392 1159 392 1169 398 1131 409 1146 405 1160 405 1174 409 1138 419 1152 415 1167 419 1146 427 1159 427"/>
  <path class="g" d="M1202 396 1212 392 1223 394 1196 407 1207 412 1219 404 1232 404 1197 417 1223 415 1232 417 1204 426 1219 428"/>
 </g>
 <g id="rows-small" class="g" transform="matrix(.995 0 0 1 0 0)">
  <use href="#a1"/><use href="#a2"/><use href="#a3"/><use href="#a4"/><use href="#a5"/><use href="#a6"/><use href="#a7"/><use href="#a8"/><use href="#a9"/><use href="#a10"/><use href="#a11"/><use href="#a12"/><use href="#a13"/><use class="b" href="#a14"/><use href="#a15"/><use href="#a16"/><use href="#a17"/><use href="#a18"/>
  <use href="#b1"/><use href="#b2"/><use href="#b3"/><use href="#b4"/><use href="#b5"/><use href="#b6"/><use href="#b7"/><use href="#b8"/><use href="#b9"/><use href="#b10"/><use href="#b11"/><use href="#b12"/><use href="#b13"/><use href="#b14"/><use href="#b15"/><use href="#b16"/><use href="#b17"/><use href="#b18"/><use href="#b19"/><use href="#b20"/>
  <use href="#c1"/><use class="r" href="#c2"/><circle class="cg" cx="106" cy="703" r="5"/><use href="#c3"/><use href="#c4"/><use href="#c5"/><use href="#c6"/><use href="#c7"/><use href="#c8"/><use href="#c9"/><use class="b" href="#c10"/><use href="#c11"/><use href="#c12"/><use href="#c13"/><use href="#c14"/><use href="#c15"/><use href="#c16"/><use href="#c17"/><use href="#c18"/><use href="#c19"/><use class="b" href="#c20"/><use href="#c21"/>
  <use class="b" href="#d1"/><use href="#d2"/><use href="#d3"/><use href="#d4"/><use href="#d5"/><use href="#d6"/><use href="#d7"/><use href="#d8"/><use href="#d9"/><use href="#d10"/><use href="#d11"/><use href="#d12"/><use href="#d13"/><use href="#d14"/><use href="#d15"/><use href="#d16"/><use href="#d17"/><use href="#d18"/><use href="#d19"/><use href="#d20"/><use href="#d21"/><use href="#d22"/>
  <use href="#e1"/><use href="#e2"/><use href="#e3"/><use href="#e4"/><use href="#e5"/><use href="#e6"/><use href="#e7"/><use href="#e8"/><use href="#e9"/><use href="#e10"/><use href="#e11"/><use href="#e12"/><use href="#e13"/><use href="#e14"/><use href="#e15"/>
  <use href="#trisEFG"/>
  <use class="b" href="#fc"/><circle class="cp" cx="975" cy="988" r="5"/>
  <use class="p" href="#gp"/>
 </g>
 <g id="row-h" class="g"><use href="#trisH"/></g>
 <g id="pairs">
  <rect transform="translate(376.8 1105)" width="880.2" height="40" fill="url(#pp)"/>
  <rect transform="translate(20.8 1161)" width="1222.5" height="248" fill="url(#pp)"/>
  <rect transform="translate(20.8 1409)" width="513.45" height="38" fill="url(#pp)"/>
  <path class="r" d="M864.3 1266.2 864.3 1292.2"/>
  <path class="bl" d="M473.1 1315.8 473.1 1341.8"/>
 </g>
</g>

<g id="network-1-frame">
 <rect x="12" y="14" width="181" height="362" rx="22" fill="none" stroke="#000" stroke-width="2" stroke-dasharray="8 4"/>
 <text x="23" y="44">Network 1</text>
</g>
</svg>
